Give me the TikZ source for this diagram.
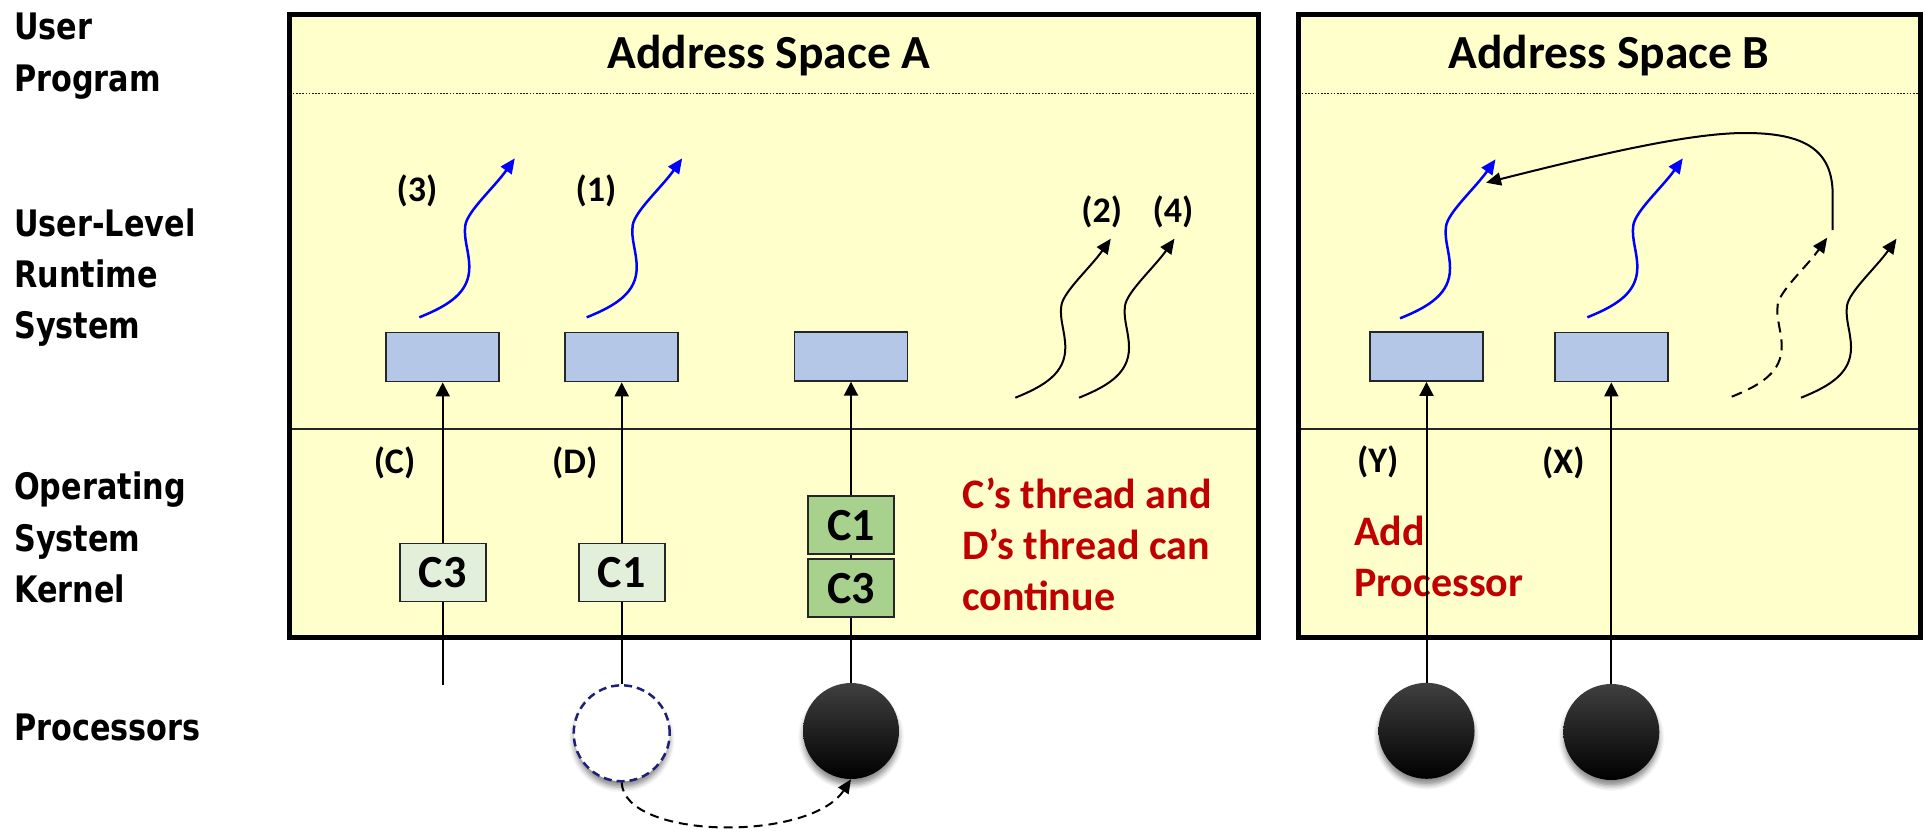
\documentclass[tikz,border=0pt]{standalone}
\usepackage{fontspec}
\setmainfont{Carlito}
\newfontfamily\sidefont{DejaVu Sans}[FakeStretch=0.83]
\usetikzlibrary{arrows.meta,shadows.blur}

\definecolor{spacefill}{HTML}{FFFFCC}
\definecolor{rtfill}{HTML}{B4C7E7}
\definecolor{kpale}{HTML}{E2EFDA}
\definecolor{kgreen}{HTML}{A9D18E}
\definecolor{note}{HTML}{C00000}
\definecolor{edge}{HTML}{262626}
\definecolor{idle}{HTML}{1F1F7A}

% wavy user-level thread, drawn upward from its start point
\tikzset{thread/.pic={\draw[pic actions] (0,0)
  .. controls (30,-12) and (50,-25) .. (50,-50)
  .. controls (50,-66) and (44,-78) .. (46,-92)
  .. controls (48,-106) and (75,-130) .. (95.5,-159);}}

\begin{document}
\begin{tikzpicture}[x=1pt,y=-1pt,
  spacebox/.style={draw=black, line width=5pt},
  dots/.style={draw=black!90, line width=1.6pt, dash pattern=on 1.6pt off 1.6pt},
  divider/.style={draw=edge, line width=1.8pt},
  title/.style={inner sep=0, anchor=base, font=\bfseries\fontsize{47.5}{57}\selectfont},
  side/.style={inner sep=0, anchor=base west, font=\sidefont\bfseries\fontsize{36.5}{44}\selectfont},
  tag/.style={inner sep=0, font=\bfseries\fontsize{36}{43}\selectfont},
  remark/.style={inner sep=0, anchor=base west, text=note, font=\bfseries\fontsize{42}{51}\selectfont},
  rtbox/.style={draw=edge, line width=1.8pt, fill=rtfill, minimum width=113pt, minimum height=49pt, inner sep=0},
  kbox/.style={draw=edge, line width=1.8pt, minimum width=86pt, minimum height=58pt, inner sep=0, font=\bfseries\fontsize{46}{55}\selectfont},
  cpu/.style={circle, minimum size=96pt, inner sep=0, top color=black!75, middle color=black, bottom color=black,
    blur shadow={shadow xshift=0pt, shadow yshift=-6pt, shadow blur radius=5pt, shadow opacity=45}},
  cpuoff/.style={circle, minimum size=96pt, inner sep=0, draw=idle, fill=white, line width=2.5pt, dash pattern=on 8pt off 5pt,
    blur shadow={shadow xshift=0pt, shadow yshift=-6pt, shadow blur radius=5pt, shadow opacity=45}},
  wire/.style={draw=black, line width=2pt},
  wirehead/.style={wire, -{Triangle[length=14pt,width=14pt]}},
  bluethread/.style={draw=blue, line width=2.5pt, -{Triangle[length=15pt,width=13pt]}},
  blackthread/.style={draw=black, line width=2pt, -{Triangle[length=15pt,width=13pt]}},
  dashthread/.style={blackthread, dash pattern=on 11pt off 7pt},
  migrate/.style={draw=black, line width=2pt, dash pattern=on 9pt off 6pt, -{Triangle[length=14pt,width=12pt]}},
]
\useasboundingbox (0,0) rectangle (1926,830);

% ---------- address space frames ----------
\fill[fill=spacefill] (289.5,14.5) rectangle (1258.5,637.5);
\draw[dots] (289.5,93.3) -- (1258.5,93.3);
\draw[divider] (289.5,429.3) -- (1258.5,429.3);
\draw[spacebox] (289.5,14.5) rectangle (1258.5,637.5);

\fill[fill=spacefill] (1298.5,14.5) rectangle (1920.5,637.5);
\draw[dots] (1298.5,93.3) -- (1920.5,93.3);
\draw[divider] (1298.5,429.3) -- (1920.5,429.3);
\draw[spacebox] (1298.5,14.5) rectangle (1920.5,637.5);

\node[remark] (addA) at (1354,545) {Add};
\node[remark] (addB) at (1354,596) {Processor};

\node[title] (tA) at (769,68.3) {Address Space A};
\node[title] (tB) at (1609,68.3) {Address Space B};

% ---------- layer names ----------
\node[side] (l1) at (14,39) {User};
\node[side] (l2) at (14,91) {Program};
\node[side] (l3) at (14,236) {User-Level};
\node[side] (l4) at (14,287) {Runtime};
\node[side] (l5) at (14,338) {System};
\node[side] (l6) at (14,499.5) {Operating};
\node[side] (l7) at (14,551) {System};
\node[side] (l8) at (14,602.5) {Kernel};
\node[side] (l9) at (14,740) {Processors};

% ---------- runtime boxes ----------
\node[rtbox] (rA1) at (442.7,357) {};
\node[rtbox] (rA2) at (621.7,357) {};
\node[rtbox] (rA3) at (851,356.3) {};
\node[rtbox] (rB1) at (1426.5,356.5) {};
\node[rtbox] (rB2) at (1611.3,357) {};

% ---------- kernel threads ----------
\node[kbox, fill=kpale] (kA1) at (442.7,572.5) {C3};
\node[kbox, fill=kpale] (kA2) at (621.7,572.5) {C1};
\node[kbox, fill=kgreen] (kA3) at (851,525.3) {C1};
\node[kbox, fill=kgreen] (kA4) at (851,588.3) {C3};

% ---------- processors ----------
\node[cpuoff] (pA2) at (621.7,733.3) {};
\node[cpu] (pA3) at (851,731) {};
\node[cpu] (pB1) at (1426.5,730.8) {};
\node[cpu] (pB2) at (1611.3,732) {};
\coordinate (cEnd) at (442.7,685);

% ---------- labels ----------
\node[tag] (n3) at (417,191) {(3)};
\node[tag] (n1) at (596,191) {(1)};
\node[tag] (n2) at (1101.7,211.7) {(2)};
\node[tag] (n4) at (1173,211.7) {(4)};
\node[tag] (nC) at (394.5,462.5) {(C)};
\node[tag] (nD) at (574.7,462.5) {(D)};
\node[tag] (nY) at (1377.7,462.3) {(Y)};
\node[tag] (nX) at (1563.3,462.5) {(X)};

\node[remark] (rm1) at (962,508.3) {C’s thread and};
\node[remark] (rm2) at (962,559.5) {D’s thread can};
\node[remark] (rm3) at (962,610.7) {continue};

% ---------- processor to kernel to runtime connections ----------
\draw[wire] (cEnd) -- (kA1.south);
\draw[wirehead] (kA1.north) -- (rA1.south);
\draw[wire] (pA2.north) -- (kA2.south);
\draw[wirehead] (kA2.north) -- (rA2.south);
\draw[wire] (pA3.north) -- (kA4.south);
\draw[wire] (kA4.north) -- (kA3.south);
\draw[wirehead] (kA3.north) -- (rA3.south);
\draw[wirehead] (pB1.north) -- (rB1.south);
\draw[wirehead] (pB2.north) -- (rB2.south);

\draw[migrate] (pA2.south) .. controls (624,840) and (810,842) .. (pA3.south);

% ---------- user-level threads ----------
\pic[bluethread] at (419.3,317.3) {thread};
\pic[bluethread] at (586.7,317.3) {thread};
\pic[blackthread] at (1015.3,397.7) {thread};
\pic[blackthread] at (1079,397.7) {thread};
\pic[bluethread] at (1400,318.3) {thread};
\pic[bluethread] at (1587.3,317.3) {thread};
\pic[dashthread] at (1731.7,396.7) {thread};
\pic[blackthread] at (1801,397.7) {thread};

\coordinate (loopStart) at (1832.7,230);
\coordinate (loopEnd) at (1486,182.7);
\draw[blackthread] (loopStart) -- (1832.7,195)
  .. controls (1832.7,150) and (1805,133) .. (1745,133)
  .. controls (1690,133) and (1600,154) .. (loopEnd);
\end{tikzpicture}
\end{document}
